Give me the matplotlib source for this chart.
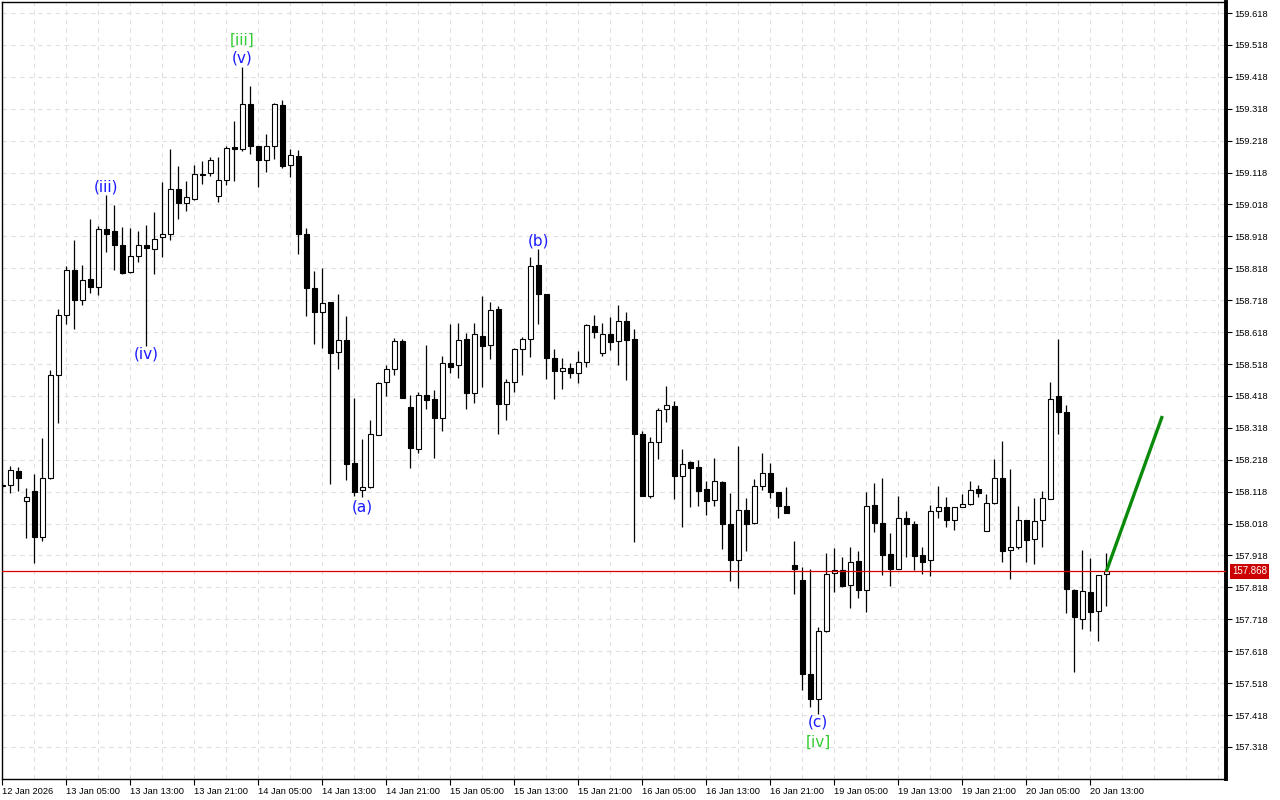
import numpy as np
import matplotlib
matplotlib.use("Agg")
import matplotlib.pyplot as plt
from matplotlib.patches import Rectangle

# hourly bars, 12 Jan 21:00 .. 20 Jan 14:00
opens = [158.135, 158.140, 158.182, 158.090, 158.121, 157.977, 158.160, 158.483, 158.672, 158.812,
         158.719, 158.784, 158.758, 158.941, 158.934, 158.890, 158.806, 158.856, 158.890, 158.878,
         158.915, 158.925, 159.066, 159.022, 159.036, 159.113, 159.116, 159.044, 159.094, 159.198,
         159.191, 159.332, 159.200, 159.157, 159.200, 159.329, 159.141, 159.170, 158.925, 158.756,
         158.680, 158.711, 158.556, 158.594, 158.208, 158.122, 158.134, 158.297, 158.463, 158.501,
         158.589, 158.382, 158.253, 158.421, 158.408, 158.350, 158.520, 158.514, 158.596, 158.426,
         158.605, 158.579, 158.690, 158.394, 158.463, 158.564, 158.595, 158.828, 158.737, 158.536,
         158.497, 158.507, 158.489, 158.525, 158.636, 158.554, 158.611, 158.589, 158.652, 158.596,
         158.300, 158.105, 158.275, 158.376, 158.385, 158.166, 158.210, 158.194, 158.126, 158.093,
         158.148, 158.016, 157.904, 158.060, 158.019, 158.136, 158.176, 158.117, 158.073, 157.888,
         157.842, 157.547, 157.468, 157.680, 157.864, 157.874, 157.825, 157.900, 157.811, 158.076,
         158.020, 157.922, 157.877, 158.035, 158.016, 157.919, 157.903, 158.057, 158.071, 158.029,
         158.069, 158.079, 158.126, 157.994, 158.082, 158.160, 157.935, 157.944, 158.029, 157.969,
         158.029, 158.095, 158.417, 158.367, 157.809, 157.718, 157.803, 157.743, 157.859]
highs = [158.148, 158.199, 158.195, 158.129, 158.173, 158.285, 158.500, 158.689, 158.825, 158.907,
         158.829, 158.971, 158.951, 159.048, 159.016, 158.947, 158.945, 158.934, 158.953, 158.994,
         159.089, 159.192, 159.138, 159.092, 159.142, 159.155, 159.168, 159.168, 159.202, 159.280,
         159.450, 159.390, 159.202, 159.238, 159.337, 159.346, 159.192, 159.189, 158.944, 158.810,
         158.819, 158.711, 158.737, 158.669, 158.412, 158.283, 158.342, 158.462, 158.515, 158.599,
         158.596, 158.421, 158.429, 158.577, 158.436, 158.544, 158.643, 158.645, 158.614, 158.648,
         158.730, 158.713, 158.699, 158.471, 158.568, 158.603, 158.852, 158.878, 158.737, 158.565,
         158.536, 158.520, 158.558, 158.643, 158.671, 158.645, 158.664, 158.703, 158.680, 158.628,
         158.307, 158.288, 158.380, 158.450, 158.401, 158.251, 158.213, 158.216, 158.150, 158.222,
         158.152, 158.114, 158.260, 158.098, 158.158, 158.239, 158.208, 158.117, 158.133, 157.964,
         157.882, 157.876, 157.694, 157.927, 157.941, 157.913, 157.944, 157.932, 158.117, 158.145,
         158.161, 157.988, 158.105, 158.058, 158.027, 157.945, 158.077, 158.136, 158.102, 158.069,
         158.111, 158.152, 158.139, 158.111, 158.221, 158.277, 158.190, 158.074, 158.029, 158.099,
         158.120, 158.462, 158.597, 158.389, 157.812, 157.936, 157.911, 157.856, 157.926]
lows = [158.125, 158.113, 158.121, 157.974, 157.893, 157.963, 158.157, 158.333, 158.642, 158.629,
        158.704, 158.741, 158.733, 158.870, 158.813, 158.799, 158.802, 158.837, 158.576, 158.799,
        158.854, 158.906, 158.974, 158.996, 159.033, 159.083, 159.106, 159.027, 159.080, 159.090,
        159.187, 159.176, 159.074, 159.121, 159.160, 159.132, 159.103, 158.862, 158.667, 158.580,
        158.568, 158.142, 158.502, 158.156, 158.104, 158.100, 158.131, 158.296, 158.419, 158.484,
        158.410, 158.191, 158.238, 158.377, 158.224, 158.307, 158.490, 158.475, 158.377, 158.396,
        158.447, 158.533, 158.300, 158.342, 158.431, 158.484, 158.541, 158.643, 158.471, 158.408,
        158.439, 158.473, 158.458, 158.509, 158.601, 158.544, 158.563, 158.515, 158.469, 157.961,
        158.103, 158.097, 158.220, 158.335, 158.095, 158.008, 158.069, 158.072, 158.045, 158.074,
        157.939, 157.837, 157.815, 157.931, 158.016, 158.122, 158.097, 158.035, 158.050, 157.797,
        157.495, 157.442, 157.421, 157.678, 157.805, 157.819, 157.753, 157.784, 157.741, 157.993,
        157.856, 157.821, 157.877, 157.912, 157.871, 157.859, 157.855, 158.034, 158.006, 157.999,
        158.069, 158.076, 158.100, 157.994, 158.079, 157.896, 157.843, 157.937, 157.899, 157.890,
        157.946, 158.095, 158.300, 157.739, 157.552, 157.689, 157.680, 157.651, 157.761]
closes = [158.140, 158.187, 158.160, 158.102, 157.976, 158.162, 158.484, 158.672, 158.812, 158.719,
          158.781, 158.758, 158.941, 158.924, 158.890, 158.802, 158.856, 158.890, 158.881, 158.909,
          158.925, 159.066, 159.022, 159.041, 159.113, 159.109, 159.157, 159.094, 159.194, 159.191,
          159.332, 159.200, 159.157, 159.200, 159.332, 159.137, 159.172, 158.925, 158.756, 158.680,
          158.709, 158.552, 158.592, 158.205, 158.116, 158.134, 158.300, 158.460, 158.501, 158.589,
          158.412, 158.256, 158.421, 158.406, 158.350, 158.520, 158.509, 158.593, 158.428, 158.611,
          158.575, 158.687, 158.394, 158.463, 158.564, 158.595, 158.824, 158.738, 158.536, 158.497,
          158.504, 158.489, 158.525, 158.640, 158.617, 158.611, 158.588, 158.652, 158.594, 158.300,
          158.105, 158.275, 158.374, 158.389, 158.168, 158.206, 158.191, 158.121, 158.089, 158.150,
          158.016, 157.904, 158.060, 158.016, 158.136, 158.176, 158.116, 158.073, 158.050, 157.875,
          157.546, 157.468, 157.680, 157.860, 157.874, 157.821, 157.897, 157.811, 158.073, 158.020,
          157.921, 157.877, 158.035, 158.016, 157.915, 157.899, 158.057, 158.071, 158.028, 158.069,
          158.079, 158.123, 158.115, 158.082, 158.160, 157.931, 157.944, 158.029, 157.968, 158.026,
          158.098, 158.408, 158.367, 157.812, 157.725, 157.806, 157.742, 157.856, 157.868]

time_labels = ["12 Jan 2026", "13 Jan 05:00", "13 Jan 13:00", "13 Jan 21:00", "14 Jan 05:00",
               "14 Jan 13:00", "14 Jan 21:00", "15 Jan 05:00", "15 Jan 13:00", "15 Jan 21:00",
               "16 Jan 05:00", "16 Jan 13:00", "16 Jan 21:00", "19 Jan 05:00", "19 Jan 13:00",
               "19 Jan 21:00", "20 Jan 05:00", "20 Jan 13:00"]
price_ticks = [157.318, 157.418, 157.518, 157.618, 157.718, 157.818, 157.918, 158.018, 158.118,
               158.218, 158.318, 158.418, 158.518, 158.618, 158.718, 158.818, 158.918, 159.018,
               159.118, 159.218, 159.318, 159.418, 159.518, 159.618]
last_price = 157.868

# wave labels: text, bar index, price level, colour
wave_labels = [("[iii]", 30, 159.533, "#33cc33"), ("(v)", 30, 159.477, "#1a1aff"),
               ("(iii)", 13, 159.073, "#1a1aff"), ("(iv)", 18, 158.549, "#1a1aff"),
               ("(a)", 45, 158.070, "#1a1aff"), ("(b)", 67, 158.903, "#1a1aff"),
               ("(c)", 102, 157.396, "#1a1aff"), ("[iv]", 102, 157.333, "#33cc33")]
# projected move
proj_bars = [138, 145]
proj_prices = [157.868, 158.355]

fig = plt.figure(figsize=(12.8, 8), dpi=100)
ax = fig.add_axes([2 / 1280, 21 / 800, 1224 / 1280, 777 / 800])

ax.set_xlim(-0.04, 152.96)
ax.set_ylim(157.2175, 159.6525)

# grid drawn by hand (vertical every 4 bars)
for gx in range(0, 153, 4):
    ax.axvline(gx, color="#e0e0e0", lw=0.8, ls=(0, (4, 4)), zorder=0)
for gy in price_ticks:
    ax.axhline(gy, color="#e0e0e0", lw=0.8, ls=(0, (4, 4)), zorder=0)

x = np.arange(len(opens))
ax.vlines(x, lows, highs, color="black", lw=0.9, zorder=2)
w = 0.6
for i in range(len(opens)):
    o, c = opens[i], closes[i]
    lo = min(o, c)
    h = max(abs(c - o), 0.004)
    fc = "white" if c >= o else "black"
    ax.add_patch(Rectangle((i - w / 2, lo), w, h, facecolor=fc, edgecolor="black",
                           lw=0.8, zorder=3))

ax.axhline(last_price, color="#dd0000", lw=0.9, zorder=4)
ax.plot(proj_bars, proj_prices, color="#0a8a0a", lw=2.4, solid_capstyle="butt", zorder=5)

for txt, b, p, col in wave_labels:
    ax.text(b, p, txt, ha="center", va="center", color=col, fontsize=11,
            family="DejaVu Sans", zorder=6)

# axes style
ax.yaxis.tick_right()
ax.set_yticks(price_ticks)
ax.set_yticklabels([f"{t:.3f}" for t in price_ticks], family="Liberation Sans", fontsize=6.7)
ax.set_xticks(list(range(0, 8 * len(time_labels), 8)))
ax.set_xticklabels(time_labels, family="Liberation Sans", fontsize=6.7)
for lbl in ax.get_xticklabels():
    lbl.set_horizontalalignment("left")
ax.tick_params(axis="y", length=4, width=0.8, pad=2, direction="out")
ax.tick_params(axis="x", length=4, width=0.8, pad=1.5, direction="out")
for s in ["left", "top", "bottom"]:
    ax.spines[s].set_linewidth(1.0)
ax.spines["right"].set_linewidth(2.8)

ax.annotate(f"{last_price:.3f}", xy=(1.0, last_price), xycoords=("axes fraction", "data"),
            xytext=(4.5, 0), textcoords="offset points", ha="left", va="center",
            color="white", fontsize=7, family="Liberation Sans",
            bbox=dict(boxstyle="square,pad=0.22", fc="#cc0000", ec="none"),
            annotation_clip=False)

fig.savefig("out.png", dpi=100)
